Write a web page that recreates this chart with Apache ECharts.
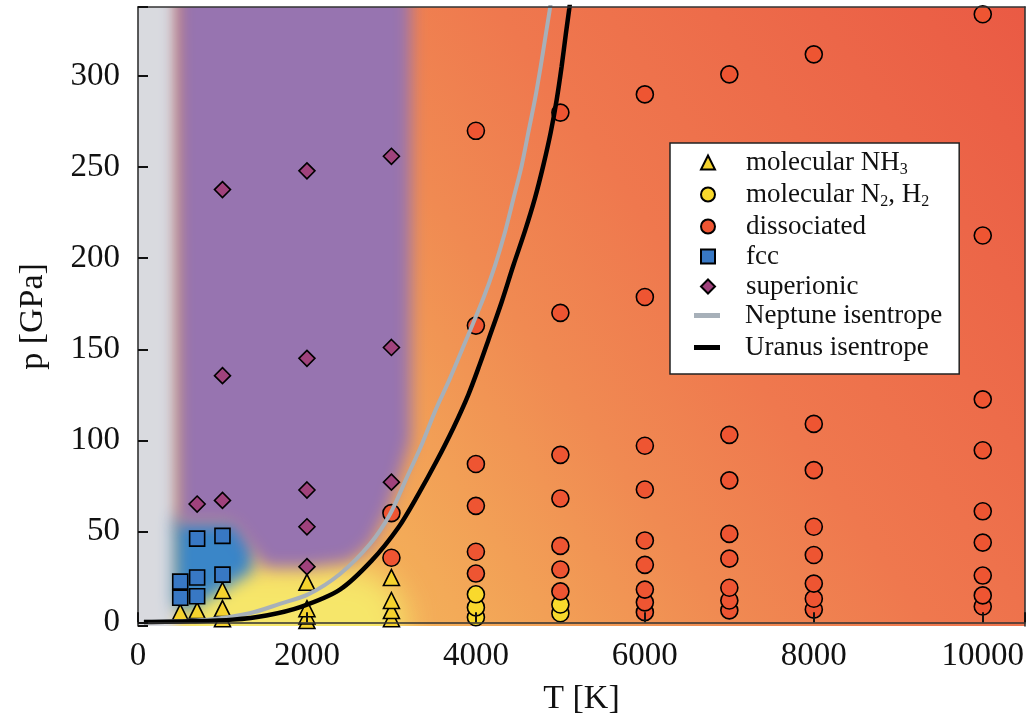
<!DOCTYPE html>
<html><head><meta charset="utf-8">
<script src="https://cdn.jsdelivr.net/npm/echarts@6/dist/echarts.min.js"></script>
<style>html,body{margin:0;padding:0;background:#fff}#c{width:1035px;height:721px}</style>
</head><body><div id="c"></div>
<script>
// ---- data (T [K], p [GPa]) ----
const xTickValues = [0, 2000, 4000, 6000, 8000, 10000];
const yTickValues = [0, 50, 100, 150, 200, 250, 300];
const molecularNH3 = [[500,5.5],[700,6.5],[1000,2],[1000,7.6],[1000,17.5],[2000,1],[2000,3.5],[2000,7.5],[2000,22],[3000,2],[3000,6.5],[3000,12],[3000,24.6]];
const molecularN2H2 = [[4000,2.8],[4000,8.2],[4000,15.4],[5000,5],[5000,9.8]];
const dissociated = [[3000,35.5],[3000,60],[4000,26.8],[4000,38.8],[4000,64],[4000,87],[4000,163],[4000,270],
  [5000,17],[5000,29],[5000,42],[5000,68],[5000,92],[5000,170],[5000,280],
  [6000,5.6],[6000,11],[6000,18],[6000,31.6],[6000,45],[6000,73],[6000,97],[6000,178.7],[6000,290],
  [7000,6.6],[7000,12],[7000,19],[7000,35],[7000,48.6],[7000,78],[7000,103],[7000,301],
  [8000,7],[8000,13],[8000,21.3],[8000,37],[8000,52.5],[8000,83.6],[8000,109],[8000,312],
  [10000,8.7],[10000,14.8],[10000,25.7],[10000,43.8],[10000,61],[10000,94.5],[10000,122.5],[10000,212.5],[10000,334]];
const fcc = [[500,13.5],[500,22.4],[700,14.3],[700,24.6],[700,46],[1000,26.2],[1000,47.5]];
const superionic = [[700,65],[1000,67],[1000,135.5],[1000,237.7],[2000,30.6],[2000,52.5],[2000,72.7],[2000,145],[2000,248],[3000,77],[3000,151],[3000,256]];
const neptuneIsentrope = [[70,0.3],[820,1.5],[1320,5],[1670,10],[2020,15.5],[2391,26.6],[2746,43],[2983,59.4],[3180,79.4],[3358,97.6],[3516,115.9],[3693,134],[3910,158],[4088,178],[4226,196],[4344,214.3],[4443,232.5],[4541,250.7],[4620,269],[4699,287.2],[4767,305.4],[4830,323.7],[4877,337.3],[4900,345]];
const uranusIsentrope = [[70,0.2],[620,0.6],[1120,1.5],[1520,3.8],[1920,8.4],[2390,18],[2766,33.9],[3082,52.1],[3318,70.3],[3535,88.6],[3733,106.8],[3910,125],[4048,142],[4147,155],[4305,176],[4443,196],[4581,215],[4699,233],[4798,251],[4885,269],[4956,287],[5015,305.4],[5066,323.7],[5106,337.3],[5125,345]];
// phase regions (T, p polygons)
const baseRegion = [[0,-2],[10500,-2],[10500,338],[0,338]];
const grayRegion = [[-1500,-100],[460,-100],[460,500],[-1500,500]];
const yellowRegion = [[460,-100],[3150,-100],[3150,8],[2950,22],[2700,29],[1600,31],[460,31]];
const blueRegion = [[430,8],[430,57],[1200,57],[1380,42],[1350,28],[1100,21],[800,12],[600,7]];
const purpleRegion = [[460,500],[3230,500],[3230,100],[3100,80],[2950,60],[2750,42],[2500,33],[2000,30],[1500,30],[1300,42],[1100,54],[460,54]];

const FONT = 'Liberation Serif';
const OFF = 3000;
function blob(poly, color, blur, z) {
  return {
    type: 'custom', silent: true, clip: true, z: z, data: [[0, 0]],
    renderItem: function (params, api) {
      const pts = poly.map(function (d) { const c = api.coord(d); return [c[0] + OFF, c[1]]; });
      return { type: 'polygon', shape: { points: pts },
        style: { fill: '#000', shadowBlur: blur, shadowColor: color, shadowOffsetX: -OFF, shadowOffsetY: 0 } };
    }
  };
}
const baseSeries = {
  type: 'custom', silent: true, clip: true, z: 0, data: [[0, 0]],
  renderItem: function (params, api) {
    const pts = baseRegion.map(function (d) { return api.coord(d); });
    return { type: 'polygon', shape: { points: pts },
      style: { fill: new echarts.graphic.LinearGradient(0, 1, 1, 0, [
        { offset: 0, color: '#f6c864' }, { offset: 0.25, color: '#f3aa58' }, { offset: 0.45, color: '#f08a52' },
        { offset: 0.6, color: '#ef784e' }, { offset: 1, color: '#ea5a44' }]) } };
  }
};
function sc(name, data, symbol, size, color) {
  return { type: 'scatter', name: name, data: data, symbol: symbol, symbolSize: size, symbolKeepAspect: true, z: 5,
    itemStyle: { color: color, borderColor: '#000', borderWidth: 1.6, opacity: 1 } };
}
const markerNames = ['molecular NH3', 'molecular N2, H2', 'dissociated', 'fcc', 'superionic'];
const lineNames = ['Neptune isentrope', 'Uranus isentrope'];

function legendText(name) {
  if (name === 'molecular NH3') return '{g|}{t|molecular NH}{s|3}';
  if (name === 'molecular N2, H2') return '{g|}{t|molecular N}{s|2}{t|, H}{s|2}';
  return '{g|}{t|' + name + '}';
}
function legendStyle(gap) {
  return { fontFamily: FONT, fontSize: 27, color: '#111',
    rich: {
      g: { width: gap },
      t: { fontFamily: FONT, fontSize: 27, lineHeight: 31, color: '#111' },
      s: { fontFamily: FONT, fontSize: 16, lineHeight: 16, verticalAlign: 'bottom', color: '#111' }
    } };
}

const chart = echarts.init(document.getElementById('c'));
chart.setOption({
  animation: false,
  backgroundColor: '#fff',
  grid: { left: 138, right: 10, top: 7, bottom: 92 },
  xAxis: [{
    type: 'value', min: 0, max: 10500, interval: 2000, z: 10,
    axisLine: { show: true, lineStyle: { color: '#333', width: 1.6 } },
    axisTick: { show: true, inside: true, length: 10, lineStyle: { color: '#111', width: 2 } },
    splitLine: { show: false },
    axisLabel: { fontFamily: FONT, fontSize: 33, color: '#111', margin: 14,
      formatter: function (v) { return xTickValues.indexOf(v) >= 0 ? String(v) : ''; } },
    name: 'T [K]', nameLocation: 'middle', nameGap: 56,
    nameTextStyle: { fontFamily: FONT, fontSize: 34, color: '#111' }
  }, {
    type: 'value', position: 'top', min: 0, max: 10500, z: 10,
    axisLine: { show: true, onZero: false, lineStyle: { color: '#333', width: 1.6 } },
    axisTick: { show: false }, axisLabel: { show: false }, splitLine: { show: false }
  }],
  yAxis: [{
    type: 'value', min: -2, max: 338, splitNumber: 7, z: 10,
    axisLine: { show: true, onZero: false, lineStyle: { color: '#333', width: 1.6 } },
    axisTick: { show: true, inside: true, length: 10, lineStyle: { color: '#111', width: 2 } },
    splitLine: { show: false },
    axisLabel: { fontFamily: FONT, fontSize: 33, color: '#111', margin: 18,
      formatter: function (v) { return yTickValues.indexOf(v) >= 0 ? String(v) : ''; } },
    name: 'p [GPa]', nameLocation: 'middle', nameGap: 88, nameRotate: 90,
    nameTextStyle: { fontFamily: FONT, fontSize: 34, color: '#111' }
  }, {
    type: 'value', position: 'right', min: -2, max: 338, z: 10,
    axisLine: { show: true, onZero: false, lineStyle: { color: '#333', width: 1.6 } },
    axisTick: { show: false }, axisLabel: { show: false }, splitLine: { show: false }
  }],
  legend: [{
    data: markerNames, orient: 'vertical', left: 670, top: 143, z: 20,
    backgroundColor: '#fff', borderColor: '#222', borderWidth: 1.5, borderRadius: 0,
    padding: [6, 30, 74, 30], itemGap: 3, itemWidth: 14, itemHeight: 14,
    selectedMode: false, formatter: legendText, textStyle: legendStyle(26)
  }, {
    data: lineNames.map(function (n) { return { name: n, icon: 'path://M0,0h26v5h-26z' }; }),
    orient: 'vertical', left: 694, top: 302, z: 21,
    padding: 0, itemGap: 5, itemWidth: 26, itemHeight: 5,
    selectedMode: false, formatter: legendText, textStyle: legendStyle(20)
  }],
  series: [
    baseSeries,
    blob(yellowRegion, '#f6e66a', 30, 0.2),
    blob(grayRegion, '#d9dadf', 12, 0.3),
    blob(blueRegion, '#3a86c8', 16, 0.4),
    blob(purpleRegion, '#9774b0', 16, 0.5),
    sc('molecular NH3', molecularNH3, 'triangle', 16, '#f5d22e'),
    sc('molecular N2, H2', molecularN2H2, 'circle', 17, '#f9d92c'),
    sc('dissociated', dissociated, 'circle', 17, '#ee5532'),
    sc('fcc', fcc, 'rect', 15, '#3878c4'),
    sc('superionic', superionic, 'diamond', 16, '#a0427c'),
    { type: 'line', name: 'Neptune isentrope', data: neptuneIsentrope, smooth: 0.3, symbol: 'none', z: 6, clip: true,
      lineStyle: { color: '#a7b0b9', width: 4 }, itemStyle: { color: '#a7b0b9' } },
    { type: 'line', name: 'Uranus isentrope', data: uranusIsentrope, smooth: 0.3, symbol: 'none', z: 7, clip: true,
      lineStyle: { color: '#000', width: 4.5 }, itemStyle: { color: '#000' } }
  ]
});
</script></body></html>
